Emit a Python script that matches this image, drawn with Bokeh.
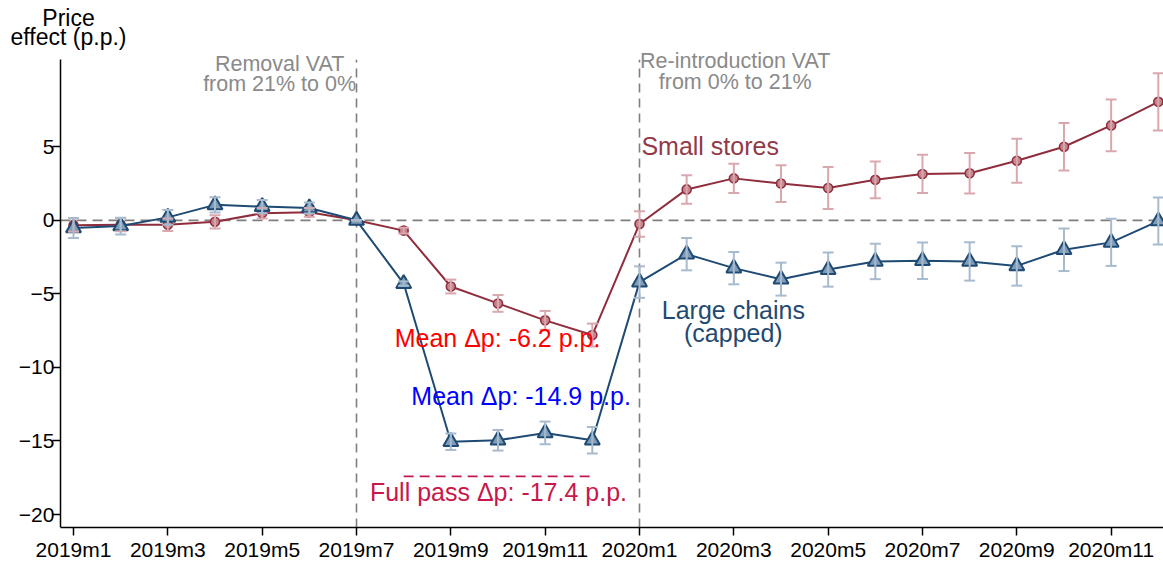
import numpy as np
from bokeh.plotting import figure
from bokeh.models import (ColumnDataSource, Whisker, TeeHead, Label,
                          FixedTicker, Range1d)
from bokeh.embed import file_html
from bokeh.resources import INLINE

# ---------------- data ----------------
months = ["2019m1", "2019m2", "2019m3", "2019m4", "2019m5", "2019m6",
          "2019m7", "2019m8", "2019m9", "2019m10", "2019m11", "2019m12",
          "2020m1", "2020m2", "2020m3", "2020m4", "2020m5", "2020m6",
          "2020m7", "2020m8", "2020m9", "2020m10", "2020m11", "2020m12"]

small_stores = [-0.33, -0.3, -0.3, -0.1, 0.48, 0.54, 0.0, -0.7,
                -4.5, -5.65, -6.8, -7.8, -0.25, 2.1, 2.85, 2.5,
                2.2, 2.75, 3.15, 3.2, 4.05, 5.0, 6.45, 8.05]
small_ci = [0.45, 0.45, 0.42, 0.45, 0.35, 0.3, 0.0, 0.2,
            0.47, 0.57, 0.64, 0.78, 0.86, 0.97, 1.0, 1.25,
            1.43, 1.25, 1.3, 1.38, 1.5, 1.62, 1.76, 1.94]

large_chains = [-0.52, -0.39, 0.2, 1.05, 0.93, 0.84, 0.0, -4.3,
                -15.05, -14.95, -14.45, -14.95, -4.2, -2.3, -3.25, -4.0,
                -3.35, -2.8, -2.75, -2.8, -3.1, -2.0, -1.5, -0.05]
large_ci = [0.68, 0.57, 0.5, 0.52, 0.45, 0.37, 0.0, 0.15,
            0.56, 0.7, 0.77, 0.9, 1.07, 1.1, 1.1, 1.12,
            1.16, 1.2, 1.24, 1.3, 1.34, 1.45, 1.6, 1.6]

y_ticks = [-20, -15, -10, -5, 0, 5]
x_tick_labels = months[::2]

event_months = ["2019m7", "2020m1"]
full_pass_window = ["2019m8", "2019m12"]
full_pass_value = -17.4

# plot-area extent (axis bounds) and full canvas ranges
X0, X1 = -0.276, 23.11
Y0, Y1 = -20.88, 10.92
XR0 = -1.548   # canvas left edge (room for y labels / title)
YR1 = 14.94    # canvas top edge (room for title)

# ---------------- colours ----------------
RED = "#8F2D3C"
RED_FILL = "#C4858E"
RED_ERR = "#D8A8AE"
BLUE = "#1E4A73"
BLUE_FILL = "#7F9CB8"
BLUE_ERR = "#A8BBCE"
GRAY = "#8A8A8A"
REF = "#7F7F7F"
FONT = "Liberation Sans"

x = np.arange(len(months))
small = np.array(small_stores)
large = np.array(large_chains)
src_s = ColumnDataSource(dict(x=x, y=small, lo=small - np.array(small_ci),
                              hi=small + np.array(small_ci)))
src_l = ColumnDataSource(dict(x=x, y=large, lo=large - np.array(large_ci),
                              hi=large + np.array(large_ci)))

p = figure(width=1163, height=563, output_backend="svg", toolbar_location=None,
           x_range=Range1d(XR0, X1), y_range=Range1d(Y0, YR1),
           min_border_left=0, min_border_top=0, min_border_bottom=36,
           min_border_right=0)
p.outline_line_color = None
p.xgrid.visible = False
p.ygrid.visible = False
p.background_fill_color = "white"
p.border_fill_color = "white"

# reference lines
ev = [months.index(m) for m in event_months]
p.segment(x0=ev, y0=[Y0] * len(ev), x1=ev, y1=[Y1] * len(ev),
          line_color=REF, line_width=1.6, line_dash="9 6")
p.segment(x0=[X0], y0=[0], x1=[X1], y1=[0], line_color=REF,
          line_width=1.8, line_dash="10 6")

# error bars
p.add_layout(Whisker(source=src_s, base="x", upper="hi", lower="lo",
                     line_color=RED_ERR, line_width=2, level="glyph",
                     upper_head=TeeHead(size=11, line_color=RED_ERR, line_width=2),
                     lower_head=TeeHead(size=11, line_color=RED_ERR, line_width=2)))
p.add_layout(Whisker(source=src_l, base="x", upper="hi", lower="lo",
                     line_color=BLUE_ERR, line_width=2, level="glyph",
                     upper_head=TeeHead(size=11, line_color=BLUE_ERR, line_width=2),
                     lower_head=TeeHead(size=11, line_color=BLUE_ERR, line_width=2)))

# series
p.line("x", "y", source=src_s, line_color=RED, line_width=2)
p.scatter("x", "y", source=src_s, marker="circle", size=9, fill_color=RED_FILL,
          line_color=RED, line_width=1.6)
p.line("x", "y", source=src_l, line_color=BLUE, line_width=2)
p.scatter("x", "y", source=src_l, marker="triangle", size=15, fill_color=BLUE_FILL,
          line_color=BLUE, line_width=2)

# full pass-through line
i0, i1 = months.index(full_pass_window[0]), months.index(full_pass_window[1])
p.line([i0, i1], [full_pass_value, full_pass_value], line_color="#C8174A",
       line_width=1.8, line_dash="10 6")

# axes
p.yaxis.fixed_location = X0
p.yaxis.bounds = (Y0, Y1)
p.yaxis.ticker = FixedTicker(ticks=y_ticks)
p.yaxis.minor_tick_line_color = None
p.yaxis.major_tick_out = 8
p.yaxis.major_tick_in = 0
p.yaxis.major_label_standoff = -2
p.yaxis.axis_line_width = 1.5
p.yaxis.major_tick_line_width = 1.5
p.xaxis.bounds = (X0, X1)
p.xaxis.ticker = FixedTicker(ticks=[months.index(m) for m in x_tick_labels])
p.xaxis.major_label_overrides = {months.index(m): m for m in x_tick_labels}
p.xaxis.minor_tick_line_color = None
p.xaxis.major_tick_out = 8
p.xaxis.major_tick_in = 0
p.xaxis.major_label_standoff = 2
p.xaxis.axis_line_width = 1.5
p.xaxis.major_tick_line_width = 1.5
for ax in (p.xaxis, p.yaxis):
    ax.major_label_text_font = FONT
    ax.major_label_text_font_size = "21px"
    ax.major_label_text_color = "black"
    ax.axis_line_color = "black"
    ax.major_tick_line_color = "black"

# texts
def lab(text, xv, yv, color, size, align="center"):
    p.add_layout(Label(x=xv, y=yv, text=text, text_color=color,
                       text_font=FONT, text_font_size=size, text_align=align,
                       text_baseline="alphabetic"))

lab("Price", -0.106, 13.72, "black", "23px")
lab("effect (p.p.)", -0.106, 12.45, "black", "23px")
lab("Removal VAT", 4.37, 10.64, GRAY, "21.5px")
lab("from 21% to 0%", 4.37, 9.24, GRAY, "21.5px")
lab("Re-introduction VAT", 14.03, 10.85, GRAY, "21.5px")
lab("from 0% to 21%", 14.03, 9.37, GRAY, "21.5px")
lab("Small stores", 12.04, 5.05, "#923A48", "25px", "left")
lab("Large chains", 13.99, -6.12, "#1F4A72", "25px")
lab("(capped)", 13.99, -7.64, "#1F4A72", "25px")
lab("Mean \u0394p: -6.2 p.p.", 8.99, -8.02, "#FF0000", "25px")
lab("Mean \u0394p: -14.9 p.p.", 9.49, -11.93, "#0000FF", "25px")
lab("Full pass \u0394p: -17.4 p.p.", 9.01, -18.5, "#C8174A", "25px")

open("out.html", "w").write(file_html(p, INLINE))
